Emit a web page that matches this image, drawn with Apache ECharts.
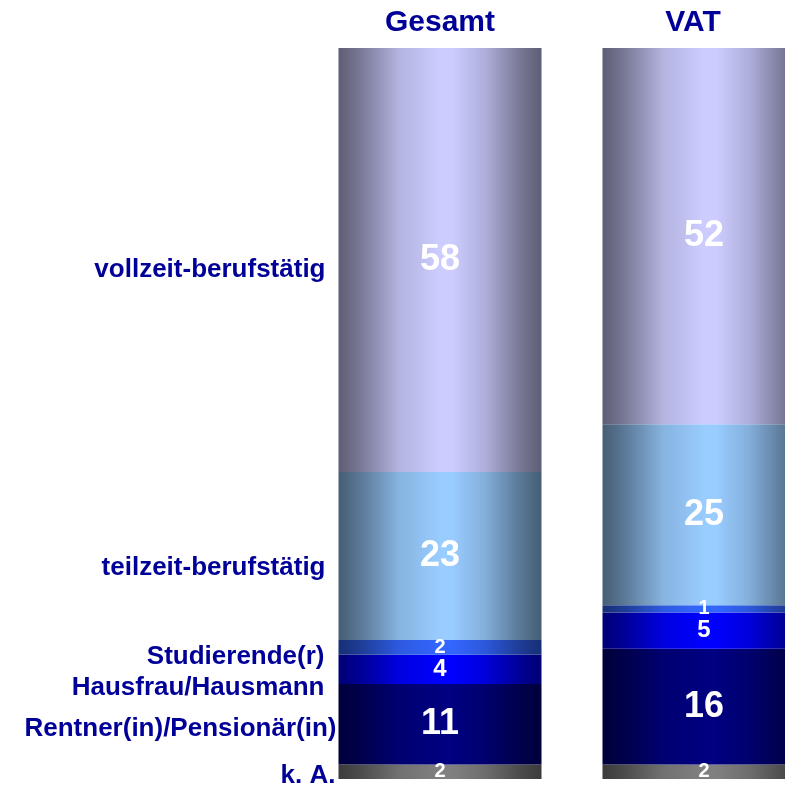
<!DOCTYPE html>
<html>
<head>
<meta charset="utf-8">
<script src="https://cdn.jsdelivr.net/npm/echarts@6/dist/echarts.min.js"></script>
<style>
  html, body { margin: 0; padding: 0; background: #fff; }
  #chart { width: 785px; height: 786px; }
</style>
</head>
<body>
<div id="chart"></div>
<script>
// Spalten (Gruppen) und Antwortkategorien, von unten nach oben gestapelt
const categories = ['Gesamt', 'VAT'];
const groups = ['k. A.', 'Rentner(in)/Pensionär(in)', 'Hausfrau/Hausmann', 'Studierende(r)', 'teilzeit-berufstätig', 'vollzeit-berufstätig'];

// Werte in Prozent (wie im Bild beschriftet)
const kA = [2, 2];
const rentner = [11, 16];
const hausfrau = [4, 5];
const studierende = [2, 1];
const teilzeit = [23, 25];
const vollzeit = [58, 52];

const values = [kA, rentner, hausfrau, studierende, teilzeit, vollzeit];
const colors = ['#808080', '#000080', '#0000ff', '#3366ff', '#99ccff', '#ccccff'];

// Summe je Spalte -> jede Säule wird auf 100 % normiert
const totals = categories.map((c, i) => values.reduce((s, arr) => s + arr[i], 0));

function shade(hex, f) {
  const n = parseInt(hex.slice(1), 16);
  const r = Math.round(((n >> 16) & 255) * f);
  const g = Math.round(((n >> 8) & 255) * f);
  const b = Math.round((n & 255) * f);
  return 'rgb(' + r + ',' + g + ',' + b + ')';
}

// Zylinder-Optik: dunkle Ränder, heller Streifen in der Mitte
function cylinder(hex) {
  return new echarts.graphic.LinearGradient(0, 0, 1, 0, [
    { offset: 0, color: shade(hex, 0.46) },
    { offset: 0.1, color: shade(hex, 0.58) },
    { offset: 0.3, color: shade(hex, 0.88) },
    { offset: 0.5, color: hex },
    { offset: 0.56, color: hex },
    { offset: 0.72, color: shade(hex, 0.86) },
    { offset: 0.9, color: shade(hex, 0.58) },
    { offset: 1, color: shade(hex, 0.46) }
  ]);
}

function valueFontSize(v) {
  if (v >= 10) return 36;
  if (v >= 4) return 24;
  return 20;
}

const font = '"Liberation Sans", Arial, sans-serif';
const navy = '#000099';

const chart = echarts.init(document.getElementById('chart'));

const series = [];
// eigentliche Säulen mit Werten
values.forEach((arr, k) => {
  series.push({
    name: groups[k],
    type: 'bar',
    stack: 'total',
    barWidth: 203,
    barGap: '-100%',
    itemStyle: { color: cylinder(colors[k]) },
    label: {
      show: true,
      position: 'inside',
      color: '#fff',
      fontFamily: font,
      fontWeight: 'bold',
      formatter: p => arr[p.dataIndex]
    },
    data: arr.map((v, i) => ({
      value: v / totals[i] * 100,
      label: { fontSize: valueFontSize(v) }
    }))
  });
});

// unsichtbare Kopie der Gesamt-Säule nur für die Kategorienamen links
const nameDistance = [3, 2, 14, 14, 13, 13];
const nameOffset = [[0, 4], [0, 5], [0, 18], [0, 9], [0, 12], [0, 10]];
values.forEach((arr, k) => {
  series.push({
    name: groups[k] + ' (Name)',
    type: 'bar',
    stack: 'names',
    barWidth: 203,
    barGap: '-100%',
    silent: true,
    itemStyle: { color: 'rgba(0,0,0,0)' },
    label: {
      show: true,
      position: 'left',
      distance: nameDistance[k],
      offset: nameOffset[k],
      color: navy,
      fontFamily: font,
      fontWeight: 'bold',
      fontSize: 26,
      formatter: groups[k]
    },
    data: [arr[0] / totals[0] * 100, '-']
  });
});

chart.setOption({
  animation: false,
  grid: { left: 308, width: 528, top: 48, bottom: 7, outerBoundsMode: 'none', containLabel: false },
  xAxis: {
    type: 'category',
    position: 'top',
    data: categories,
    axisLine: { show: false },
    axisTick: { show: false },
    axisLabel: {
      margin: 10,
      color: navy,
      fontFamily: font,
      fontWeight: 'bold',
      fontSize: 30,
      // VAT-Titel sitzt im Original etwas links der Säulenmitte
      formatter: (v, i) => i === 1 ? '{vat|' + v + '}' : v,
      rich: {
        vat: {
          color: navy,
          fontFamily: font,
          fontWeight: 'bold',
          fontSize: 30,
          padding: [0, 22, 0, 0]
        }
      }
    }
  },
  yAxis: {
    type: 'value',
    min: 0,
    max: 100,
    show: false
  },
  series: series
});
</script>
</body>
</html>
